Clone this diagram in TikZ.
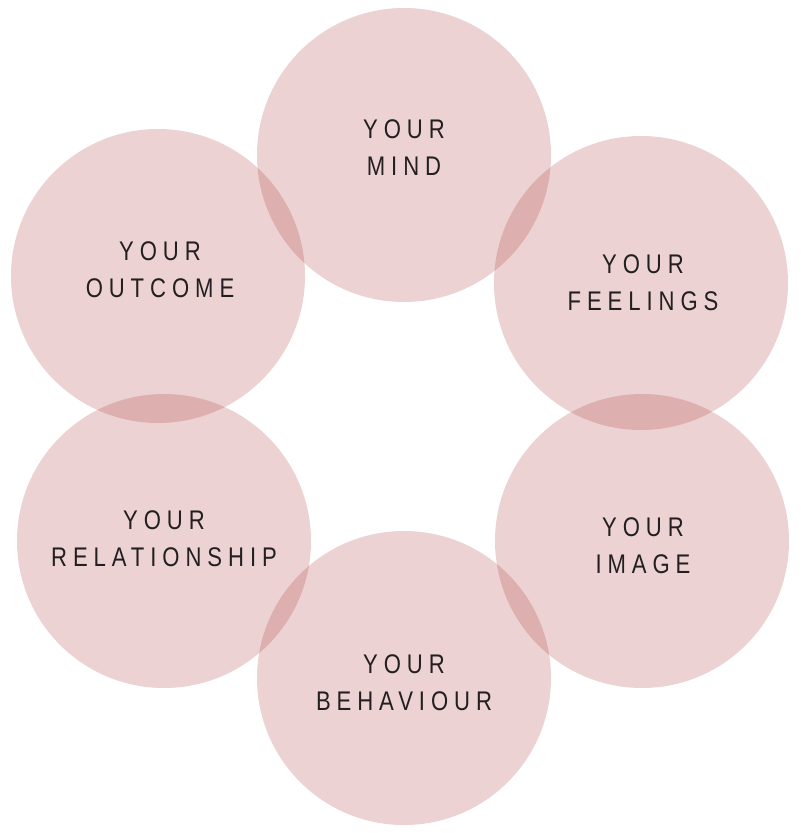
\documentclass[tikz,border=0pt]{standalone}
\usepackage{fontspec}
\usepackage{tikz}
\newfontfamily\bubblefont[LetterSpace=22,FakeStretch=0.82]{Liberation Sans}
\definecolor{WheelRose}{RGB}{160,32,32}
\definecolor{WheelInk}{HTML}{231F20}

\begin{document}
\begin{tikzpicture}[x=0.03cm,y=-0.03cm]
    \tikzset{
      bubble/.style={circle, minimum size=8.82cm, inner sep=0pt,
        fill=WheelRose, fill opacity=.2},
      caption/.style={inner sep=0pt, text=WheelInk, align=center,
        font=\bubblefont\fontsize{23}{31.5}\selectfont}
    }
    \useasboundingbox (0,0) rectangle (800,833);
    \node[bubble] (mind) at (404,155) {};
    \node[bubble] (feelings) at (641,283) {};
    \node[bubble] (image) at (642,541) {};
    \node[bubble] (behaviour) at (404,678) {};
    \node[bubble] (relationship) at (164,541) {};
    \node[bubble] (outcome) at (158,276) {};
    \node[caption] (mindtxt) at (404,148) {YOUR\\MIND};
    \node[caption] (feelingstxt) at (643,283) {YOUR\\FEELINGS};
    \node[caption] (imagetxt) at (643,545.5) {YOUR\\IMAGE};
    \node[caption] (behaviourtxt) at (404,682.5) {YOUR\\BEHAVIOUR};
    \node[caption] (relationshiptxt) at (164,538.5) {YOUR\\RELATIONSHIP};
    \node[caption] (outcometxt) at (160,270) {YOUR\\OUTCOME};
  \end{tikzpicture}
\end{document}
